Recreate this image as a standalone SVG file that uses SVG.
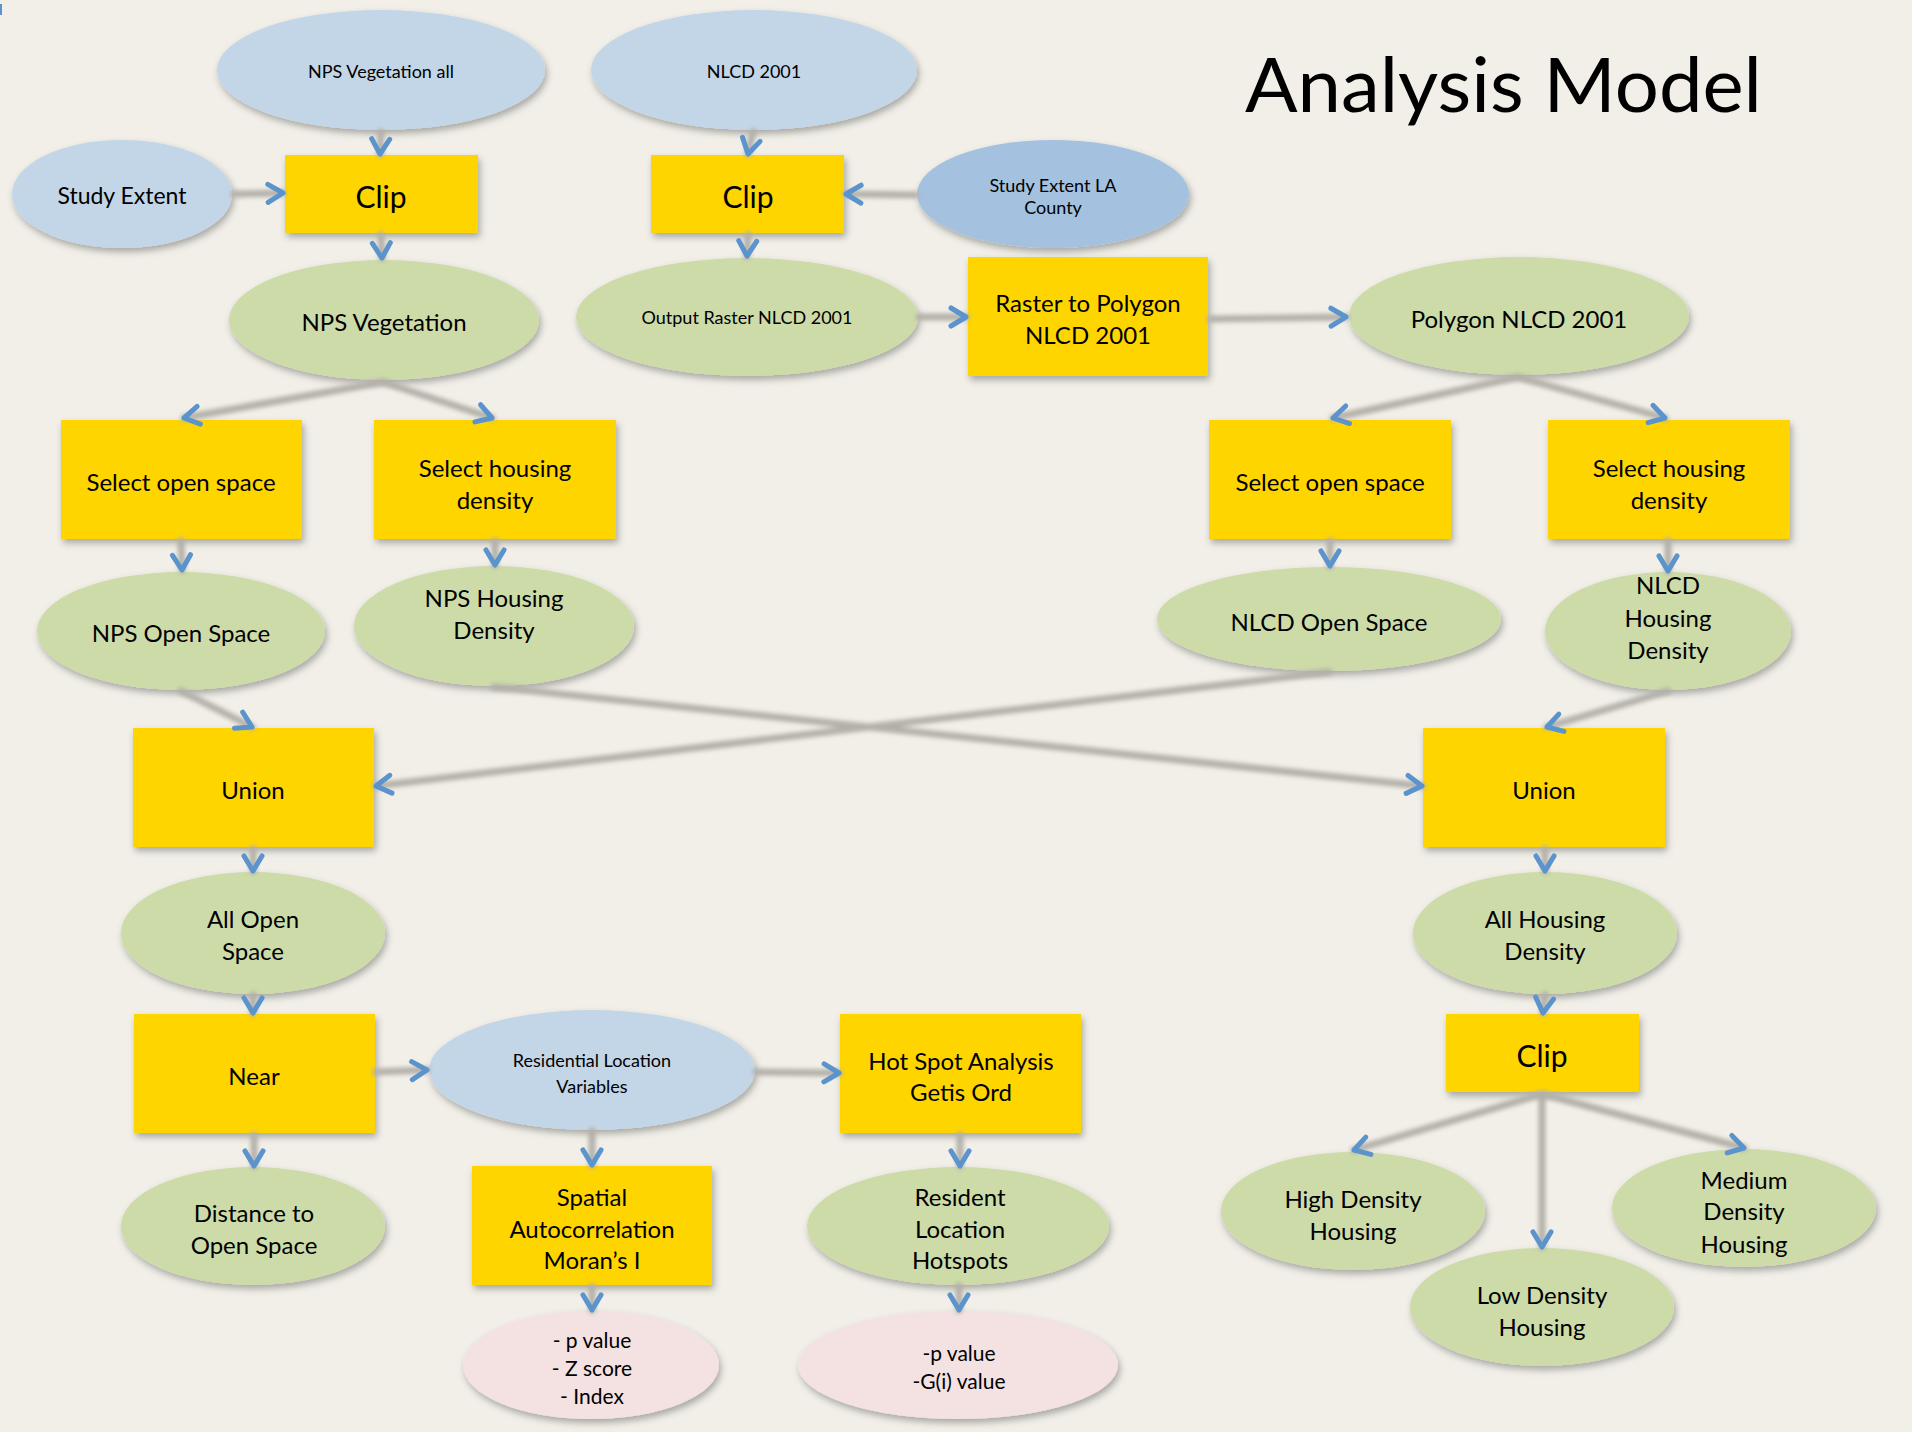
<svg xmlns="http://www.w3.org/2000/svg" width="1912" height="1432" viewBox="0 0 1912 1432">
<defs>
<style>
.bx{fill:#ffd500;filter:url(#sh)}
.eb{fill:#c3d6e8;filter:url(#sh)}
.ed{fill:#a4c1df;filter:url(#sh)}
.eg{fill:#cddba9;filter:url(#sh)}
.ep{fill:#f3e2e1;filter:url(#sh)}
text{font-family:Lato,"Open Sans","Liberation Sans",sans-serif;fill:#000;text-anchor:middle;font-size:24px}
.s{font-size:18px}
.m{font-size:21px}
.l{font-size:30px}
.ln{fill:none;stroke:#b3b0a9;stroke-width:7;stroke-linecap:round}
.hd{fill:none;stroke:none;marker-end:url(#chev)}
</style>
<filter id="sh" x="-20%" y="-20%" width="140%" height="150%">
<feDropShadow dx="2" dy="4" stdDeviation="3.5" flood-color="#000" flood-opacity="0.3"/>
</filter>
<filter id="bl" x="-10%" y="-10%" width="120%" height="120%">
<feGaussianBlur stdDeviation="2"/>
</filter>
<marker id="chev" markerUnits="userSpaceOnUse" viewBox="-22 -14 28 28" refX="0" refY="0" markerWidth="28" markerHeight="28" orient="auto">
<path d="M-15,-9 L0,0 L-15,9" fill="none" stroke="#5b93cc" stroke-width="5" stroke-linecap="round" stroke-linejoin="round"/>
</marker>
</defs>
<rect width="1912" height="1432" fill="#f1efe8"/>
<rect x="0" y="4" width="2" height="11" fill="#5b93cc"/>
<text x="1245" y="112" style="font-size:76px;text-anchor:start" textLength="517" lengthAdjust="spacingAndGlyphs">Analysis Model</text>

<g id="n1"><ellipse class="eb" cx="381" cy="70" rx="164" ry="60"/><text class="s" x="381" y="78">NPS Vegetation all</text></g>
<g id="n2"><ellipse class="eb" cx="754" cy="70" rx="163" ry="60"/><text class="s" x="754" y="78">NLCD 2001</text></g>
<g id="n3"><ellipse class="eb" cx="122" cy="194" rx="110" ry="54"/><text x="122" y="204" style="font-size:23px">Study Extent</text></g>
<g id="n4"><rect class="bx" x="285" y="155" width="193" height="78"/><text class="l" x="381" y="208">Clip</text></g>
<g id="n5"><rect class="bx" x="651" y="155" width="193" height="78"/><text class="l" x="748" y="208">Clip</text></g>
<g id="n6"><ellipse class="ed" cx="1053" cy="194" rx="136" ry="54"/><text class="s" x="1053" y="192">Study Extent LA</text><text class="s" x="1053" y="214">County</text></g>
<g id="n7"><ellipse class="eg" cx="384" cy="320" rx="155" ry="60"/><text x="384" y="331">NPS Vegetation</text></g>
<g id="n8"><ellipse class="eg" cx="747" cy="317" rx="171" ry="59"/><text class="s" x="747" y="324">Output Raster NLCD 2001</text></g>
<g id="n9"><rect class="bx" x="968" y="257" width="240" height="119"/><text x="1088" y="312">Raster to Polygon</text><text x="1088" y="344">NLCD 2001</text></g>
<g id="n10"><ellipse class="eg" cx="1519" cy="316" rx="170" ry="59"/><text x="1519" y="328">Polygon NLCD 2001</text></g>
<g id="n11"><rect class="bx" x="61" y="420" width="241" height="119"/><text x="181" y="491">Select open space</text></g>
<g id="n12"><rect class="bx" x="374" y="420" width="242" height="119"/><text x="495" y="477">Select housing</text><text x="495" y="509">density</text></g>
<g id="n13"><rect class="bx" x="1209" y="420" width="242" height="119"/><text x="1330" y="491">Select open space</text></g>
<g id="n14"><rect class="bx" x="1548" y="420" width="242" height="119"/><text x="1669" y="477">Select housing</text><text x="1669" y="509">density</text></g>
<g id="n15"><ellipse class="eg" cx="181" cy="631" rx="144" ry="59"/><text x="181" y="642">NPS Open Space</text></g>
<g id="n16"><ellipse class="eg" cx="494" cy="626" rx="140" ry="60"/><text x="494" y="607">NPS Housing</text><text x="494" y="639">Density</text></g>
<g id="n17"><ellipse class="eg" cx="1329" cy="619" rx="172" ry="52"/><text x="1329" y="631">NLCD Open Space</text></g>
<g id="n18"><ellipse class="eg" cx="1668" cy="631" rx="123" ry="59"/><text x="1668" y="594">NLCD</text><text x="1668" y="627">Housing</text><text x="1668" y="659">Density</text></g>
<g id="n19"><rect class="bx" x="133" y="728" width="241" height="119"/><text x="253" y="799">Union</text></g>
<g id="n20"><rect class="bx" x="1423" y="728" width="242" height="119"/><text x="1544" y="799">Union</text></g>
<g id="n21"><ellipse class="eg" cx="253" cy="933" rx="132" ry="61"/><text x="253" y="928">All Open</text><text x="253" y="960">Space</text></g>
<g id="n22"><ellipse class="eg" cx="1545" cy="933" rx="132" ry="61"/><text x="1545" y="928">All Housing</text><text x="1545" y="960">Density</text></g>
<g id="n23"><rect class="bx" x="134" y="1014" width="241" height="119"/><text x="254" y="1085">Near</text></g>
<g id="n24"><ellipse class="eb" cx="592" cy="1070" rx="163" ry="60"/><text class="s" x="592" y="1067">Residential Location</text><text class="s" x="592" y="1093">Variables</text></g>
<g id="n25"><rect class="bx" x="840" y="1014" width="241" height="119"/><text x="961" y="1070">Hot Spot Analysis</text><text x="961" y="1101">Getis Ord</text></g>
<g id="n26"><ellipse class="eg" cx="253" cy="1226" rx="132" ry="59"/><text x="254" y="1222">Distance to</text><text x="254" y="1254">Open Space</text></g>
<g id="n27"><rect class="bx" x="472" y="1166" width="240" height="119"/><text x="592" y="1206">Spatial</text><text x="592" y="1238">Autocorrelation</text><text x="592" y="1269">Moran’s I</text></g>
<g id="n28"><ellipse class="eg" cx="958" cy="1226" rx="151" ry="59"/><text x="960" y="1206">Resident</text><text x="960" y="1238">Location</text><text x="960" y="1269">Hotspots</text></g>
<g id="n29"><ellipse class="ep" cx="591" cy="1365" rx="128" ry="54"/><text class="m" x="592" y="1348">- p value</text><text class="m" x="592" y="1376">- Z score</text><text class="m" x="592" y="1404">- Index</text></g>
<g id="n30"><ellipse class="ep" cx="958" cy="1365" rx="160" ry="54"/><text class="m" x="959" y="1361">-p value</text><text class="m" x="959" y="1389">-G(i) value</text></g>
<g id="n31"><rect class="bx" x="1446" y="1014" width="193" height="78"/><text class="l" x="1542" y="1067">Clip</text></g>
<g id="n32"><ellipse class="eg" cx="1353" cy="1211" rx="132" ry="59"/><text x="1353" y="1208">High Density</text><text x="1353" y="1240">Housing</text></g>
<g id="n33"><ellipse class="eg" cx="1542" cy="1307" rx="132" ry="59"/><text x="1542" y="1304">Low Density</text><text x="1542" y="1336">Housing</text></g>
<g id="n34"><ellipse class="eg" cx="1744" cy="1208" rx="132" ry="59"/><text x="1744" y="1189">Medium</text><text x="1744" y="1220">Density</text><text x="1744" y="1253">Housing</text></g>

<g id="connectors">
<g filter="url(#bl)">
<path class="ln" d="M381,132 L380,154"/>
<path class="ln" d="M234,194 L283,193"/>
<path class="ln" d="M753,132 L748,154"/>
<path class="ln" d="M916,195 L846,194"/>
<path class="ln" d="M381,235 L382,258"/>
<path class="ln" d="M748,235 L747,256"/>
<path class="ln" d="M919,317 L966,317"/>
<path class="ln" d="M1210,319 L1346,317"/>
<path class="ln" d="M383,382 L184,418"/>
<path class="ln" d="M383,382 L492,418"/>
<path class="ln" d="M1518,377 L1333,418"/>
<path class="ln" d="M1518,377 L1665,418"/>
<path class="ln" d="M181,541 L182,570"/>
<path class="ln" d="M495,541 L495,565"/>
<path class="ln" d="M1330,541 L1330,566"/>
<path class="ln" d="M1668,541 L1668,571"/>
<path class="ln" d="M181,691 L252,727"/>
<path class="ln" d="M494,687 L1422,786"/>
<path class="ln" d="M1329,672 L376,786"/>
<path class="ln" d="M1668,691 L1547,727"/>
<path class="ln" d="M253,849 L253,871"/>
<path class="ln" d="M1545,849 L1545,871"/>
<path class="ln" d="M253,995 L253,1013"/>
<path class="ln" d="M1545,995 L1543,1013"/>
<path class="ln" d="M376,1072 L427,1070"/>
<path class="ln" d="M756,1072 L839,1073"/>
<path class="ln" d="M254,1135 L254,1166"/>
<path class="ln" d="M592,1131 L592,1165"/>
<path class="ln" d="M960,1135 L960,1166"/>
<path class="ln" d="M592,1287 L592,1310"/>
<path class="ln" d="M959,1286 L959,1310"/>
<path class="ln" d="M1542,1094 L1354,1150"/>
<path class="ln" d="M1542,1094 L1542,1247"/>
<path class="ln" d="M1542,1094 L1744,1148"/>
</g>
<g>
<path class="hd" d="M381,132 L380,154"/>
<path class="hd" d="M234,194 L283,193"/>
<path class="hd" d="M753,132 L748,154"/>
<path class="hd" d="M916,195 L846,194"/>
<path class="hd" d="M381,235 L382,258"/>
<path class="hd" d="M748,235 L747,256"/>
<path class="hd" d="M919,317 L966,317"/>
<path class="hd" d="M1210,319 L1346,317"/>
<path class="hd" d="M383,382 L184,418"/>
<path class="hd" d="M383,382 L492,418"/>
<path class="hd" d="M1518,377 L1333,418"/>
<path class="hd" d="M1518,377 L1665,418"/>
<path class="hd" d="M181,541 L182,570"/>
<path class="hd" d="M495,541 L495,565"/>
<path class="hd" d="M1330,541 L1330,566"/>
<path class="hd" d="M1668,541 L1668,571"/>
<path class="hd" d="M181,691 L252,727"/>
<path class="hd" d="M494,687 L1422,786"/>
<path class="hd" d="M1329,672 L376,786"/>
<path class="hd" d="M1668,691 L1547,727"/>
<path class="hd" d="M253,849 L253,871"/>
<path class="hd" d="M1545,849 L1545,871"/>
<path class="hd" d="M253,995 L253,1013"/>
<path class="hd" d="M1545,995 L1543,1013"/>
<path class="hd" d="M376,1072 L427,1070"/>
<path class="hd" d="M756,1072 L839,1073"/>
<path class="hd" d="M254,1135 L254,1166"/>
<path class="hd" d="M592,1131 L592,1165"/>
<path class="hd" d="M960,1135 L960,1166"/>
<path class="hd" d="M592,1287 L592,1310"/>
<path class="hd" d="M959,1286 L959,1310"/>
<path class="hd" d="M1542,1094 L1354,1150"/>
<path class="hd" d="M1542,1094 L1542,1247"/>
<path class="hd" d="M1542,1094 L1744,1148"/>
</g>
</g>
</svg>
